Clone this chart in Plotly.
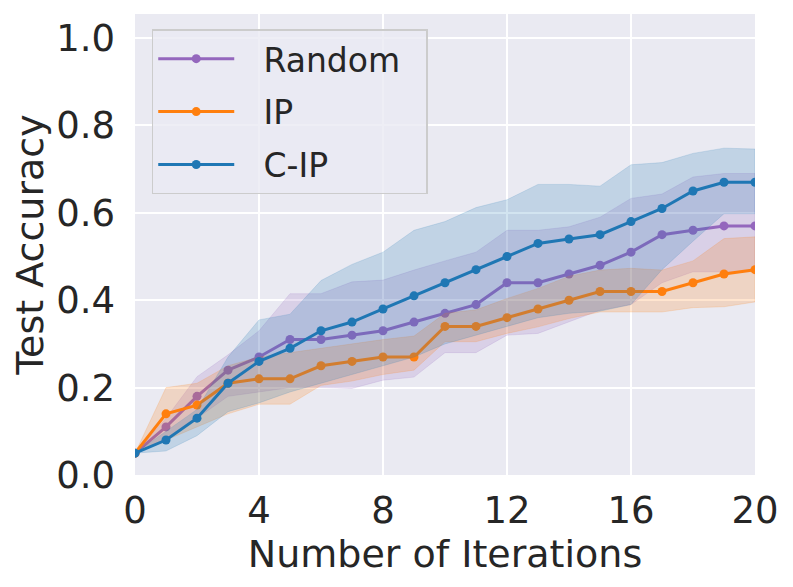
import plotly.graph_objects as go

iterations = list(range(21))

random_mean = [0.05, 0.11, 0.18, 0.24, 0.27, 0.31, 0.31, 0.32, 0.33, 0.35, 0.37,
               0.39, 0.44, 0.44, 0.46, 0.48, 0.51, 0.55, 0.56, 0.57, 0.57]
random_upper = [0.05, 0.13, 0.225, 0.275, 0.33, 0.415, 0.415, 0.442, 0.446, 0.469, 0.49,
                0.51, 0.56, 0.56, 0.568, 0.59, 0.633, 0.643, 0.682, 0.69, 0.69]
random_lower = [0.05, 0.08, 0.13, 0.18, 0.19, 0.20, 0.20, 0.198, 0.217, 0.224, 0.28,
                0.28, 0.32, 0.324, 0.35, 0.377, 0.39, 0.44, 0.465, 0.465, 0.465]

ip_mean = [0.05, 0.14, 0.16, 0.21, 0.22, 0.22, 0.25, 0.26, 0.27, 0.27, 0.34,
           0.34, 0.36, 0.38, 0.40, 0.42, 0.42, 0.42, 0.44, 0.46, 0.47]
ip_upper = [0.05, 0.20, 0.21, 0.25, 0.27, 0.28, 0.289, 0.30, 0.31, 0.318, 0.37,
            0.378, 0.404, 0.427, 0.455, 0.469, 0.473, 0.469, 0.49, 0.541, 0.545]
ip_lower = [0.05, 0.08, 0.11, 0.14, 0.162, 0.162, 0.205, 0.215, 0.23, 0.24, 0.305,
            0.305, 0.324, 0.339, 0.358, 0.373, 0.373, 0.373, 0.383, 0.385, 0.396]

cip_mean = [0.05, 0.08, 0.13, 0.21, 0.26, 0.29, 0.33, 0.35, 0.38, 0.41, 0.44,
            0.47, 0.50, 0.53, 0.54, 0.55, 0.58, 0.61, 0.65, 0.67, 0.67]
cip_upper = [0.05, 0.10, 0.15, 0.27, 0.355, 0.368, 0.445, 0.482, 0.51, 0.56, 0.58,
             0.612, 0.63, 0.665, 0.665, 0.661, 0.71, 0.715, 0.736, 0.748, 0.746]
cip_lower = [0.05, 0.055, 0.09, 0.145, 0.165, 0.19, 0.21, 0.23, 0.25, 0.27, 0.30,
             0.32, 0.34, 0.36, 0.37, 0.375, 0.39, 0.47, 0.535, 0.598, 0.598]

series = [
    ("Random", random_mean, random_lower, random_upper, "#9467bd", "rgba(148,103,189,0.2)"),
    ("IP", ip_mean, ip_lower, ip_upper, "#ff7f0e", "rgba(255,127,14,0.2)"),
    ("C-IP", cip_mean, cip_lower, cip_upper, "#1f77b4", "rgba(31,119,180,0.2)"),
]

x_ticks = [0, 4, 8, 12, 16, 20]
y_ticks = [0.0, 0.2, 0.4, 0.6, 0.8, 1.0]

FONT = "DejaVu Sans"
TXT = "#262626"
PAD_L = "\u00a0\u00a0\u200a"
PAD_R = "\u00a0\u00a0"
fig = go.Figure()

for name, mean, lo, hi, color, fillc in series:
    fig.add_trace(go.Scatter(
        x=iterations + iterations[::-1], y=hi + lo[::-1],
        fill="toself", fillcolor=fillc, line=dict(width=0.8, color=fillc),
        mode="lines", hoverinfo="skip", showlegend=False))
    fig.add_trace(go.Scatter(
        x=iterations, y=mean, name=PAD_L + name + PAD_R, legendgroup=name,
        mode="lines+markers",
        line=dict(color=color, width=3), marker=dict(color=color, size=9)))

fig.update_layout(
    width=785, height=579,
    margin=dict(l=127, r=38, t=6, b=112),
    paper_bgcolor="white", plot_bgcolor="#EAEAF2",
    font=dict(family=FONT, color=TXT, size=37),
    legend=dict(
        x=0.027, y=0.967, xanchor="left", yanchor="top",
        bgcolor="rgba(234,234,242,0.8)", bordercolor="#cccccc", borderwidth=1.5,
        font=dict(size=33, family=FONT, color=TXT),
        itemwidth=76, tracegroupgap=7,
    ),
)
fig.update_xaxes(
    range=[0, 20], tickvals=x_ticks, ticktext=[str(v) for v in x_ticks],
    showgrid=True, gridcolor="white", gridwidth=1.6, zeroline=False,
    showline=False, ticks="", ticklabelstandoff=10,
    tickfont=dict(size=37, family=FONT, color=TXT),
    title=dict(text="Number of Iterations", font=dict(size=38, family=FONT, color=TXT), standoff=2),
)
fig.update_yaxes(
    range=[0, 1.055], tickvals=y_ticks, ticktext=[f"{v:.1f}" for v in y_ticks],
    showgrid=True, gridcolor="white", gridwidth=1.6, zeroline=False,
    showline=False, ticks="", ticklabelstandoff=19,
    tickfont=dict(size=37, family=FONT, color=TXT),
    title=dict(text="Test Accuracy", font=dict(size=38, family=FONT, color=TXT), standoff=6),
)

fig.write_html("out.html")
